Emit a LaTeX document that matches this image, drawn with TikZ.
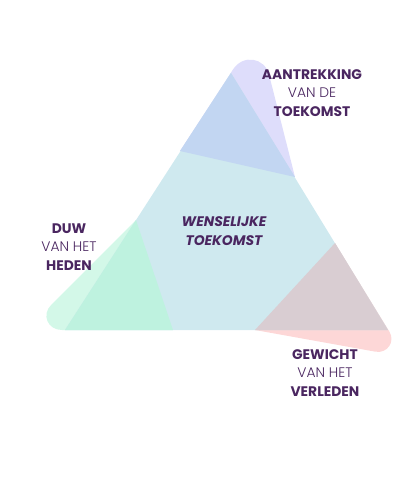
\documentclass[tikz,border=0pt]{standalone}
\usepackage{fontspec}
\setmainfont{Poppins}
\newfontfamily\dunfont{Poppins Light}
\usetikzlibrary{calc}

\definecolor{wensblauw}{HTML}{CFE9EF}
\definecolor{topblauw}{HTML}{C2D6F2}
\definecolor{lavendel}{HTML}{DEDDFB}
\definecolor{muntgroen}{HTML}{BEF2DF}
\definecolor{bleekgroen}{HTML}{D3F8E8}
\definecolor{mauve}{HTML}{D9CDD2}
\definecolor{bleekroze}{HTML}{FDD7D7}
\definecolor{tekstpaars}{HTML}{4A2660}

\tikzset{
  hoektekst/.style={text=tekstpaars, font=\fontsize{10.4}{13.9}\selectfont, align=center, inner sep=0pt},
}

\begin{document}
\begin{tikzpicture}[x=0.75pt, y=-0.75pt]
\useasboundingbox (0,0) rectangle (420,480);
% big triangle
\coordinate (top) at (231,73);
\coordinate (bl) at (65,330);
\coordinate (br) at (388,330);
% corner triangles
\coordinate (tl) at (180,151);
\coordinate (tr) at (295,177);
\coordinate (lt) at (136,220);
\coordinate (lr) at (173,330);
\coordinate (rt) at (335,243);
\coordinate (rl) at (255,330);
% tips of the tails (before rounding)
\coordinate (vtop) at (258,31);
\coordinate (vlinks) at (26,330);
\coordinate (vrechts) at (405,357);

% top tail
\fill[lavendel] (tl) -- ($(vtop)!0.32!(tl)$)
  .. controls ($($(vtop)!0.32!(tl)$)!0.4!(vtop)$) and ($($(vtop)!0.30!(tr)$)!0.4!(vtop)$)
  .. ($(vtop)!0.30!(tr)$) -- (tr) -- cycle;
% left tail
\fill[bleekgroen] (lt) -- ($(vlinks)!0.23!(lt)$)
  .. controls ($($(vlinks)!0.23!(lt)$)!0.4!(vlinks)$) and ($($(vlinks)!0.245!(lr)$)!0.4!(vlinks)$)
  .. ($(vlinks)!0.245!(lr)$) -- (lr) -- cycle;
% right tail
\fill[bleekroze] (rt) -- ($(vrechts)!0.224!(rt)$)
  .. controls ($($(vrechts)!0.224!(rt)$)!0.4!(vrechts)$) and ($($(vrechts)!0.197!(rl)$)!0.4!(vrechts)$)
  .. ($(vrechts)!0.197!(rl)$) -- (rl) -- cycle;

% wanted future
\fill[wensblauw] (top) -- (bl) -- (br) -- cycle;
\fill[topblauw] (top) -- (tl) -- (tr) -- cycle;
\fill[muntgroen] (lt) -- (bl) -- (lr) -- cycle;
\fill[mauve] (rt) -- (rl) -- (br) -- cycle;

% labels
\node[hoektekst] (aantrekking) at (312,93) {\textbf{AANTREKKING}\\{\dunfont VAN DE}\\\textbf{TOEKOMST}};
\node[hoektekst] (duw) at (69,247) {\textbf{DUW}\\{\dunfont VAN HET}\\\textbf{HEDEN}};
\node[hoektekst] (gewicht) at (325,373) {\textbf{GEWICHT}\\{\dunfont VAN HET}\\\textbf{VERLEDEN}};
\node[hoektekst, font=\fontsize{10.4}{13.9}\selectfont\bfseries\itshape] (wenselijk) at (224,231) {WENSELIJKE\\TOEKOMST};
\end{tikzpicture}
\end{document}
